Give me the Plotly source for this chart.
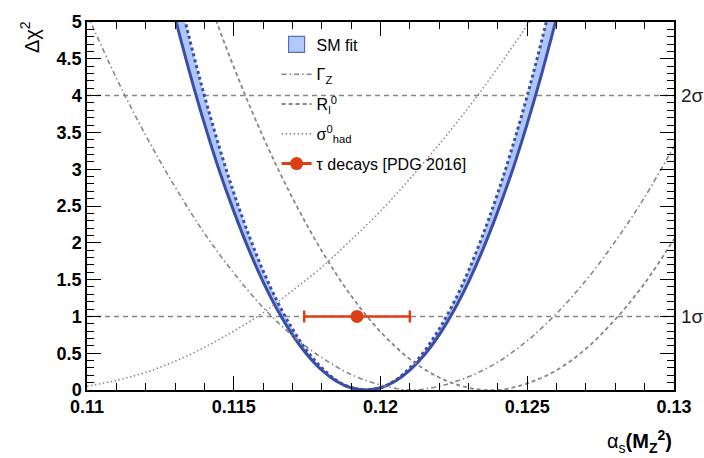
import plotly.graph_objects as go

# ---------------- data ----------------
alpha_sm = [0.1125, 0.113, 0.1135, 0.114, 0.1145, 0.115, 0.1155, 0.116, 0.1165, 0.117,
            0.1175, 0.118, 0.1185, 0.119, 0.1195, 0.12, 0.1205, 0.121, 0.1215, 0.122,
            0.1225, 0.123, 0.1235, 0.124, 0.1245, 0.125, 0.1255, 0.126, 0.1265]
chi2_sm_outer = [5.87, 5.06, 4.31, 3.62, 2.99, 2.43, 1.92, 1.47, 1.08, 0.75,
                 0.48, 0.27, 0.12, 0.03, 0.0, 0.03, 0.12, 0.27, 0.48, 0.75,
                 1.08, 1.47, 1.92, 2.43, 2.99, 3.62, 4.31, 5.06, 5.87]
chi2_sm_inner = [6.48, 5.59, 4.76, 4.00, 3.31, 2.68, 2.12, 1.62, 1.19, 0.83,
                 0.53, 0.30, 0.13, 0.03, 0.0, 0.03, 0.13, 0.30, 0.53, 0.83,
                 1.19, 1.62, 2.12, 2.68, 3.31, 4.00, 4.76, 5.59, 6.48]

alpha_gz = [0.110, 0.111, 0.112, 0.113, 0.114, 0.115, 0.116, 0.117, 0.118, 0.119, 0.120,
            0.121, 0.122, 0.123, 0.124, 0.125, 0.126, 0.127, 0.128, 0.129, 0.130]
chi2_gz = [5.11, 4.24, 3.46, 2.76, 2.13, 1.59, 1.12, 0.74, 0.44, 0.21, 0.07,
           0.00, 0.05, 0.18, 0.38, 0.67, 1.04, 1.49, 2.02, 2.62, 3.31]

alpha_rl = [0.113, 0.114, 0.115, 0.116, 0.117, 0.118, 0.119, 0.120, 0.121, 0.122,
            0.123, 0.124, 0.125, 0.126, 0.127, 0.128, 0.129, 0.130]
chi2_rl = [6.65, 5.46, 4.39, 3.44, 2.61, 1.89, 1.28, 0.79, 0.42, 0.17,
           0.03, 0.00, 0.09, 0.27, 0.56, 0.96, 1.45, 2.05]

alpha_sh = [0.110, 0.111, 0.112, 0.113, 0.114, 0.115, 0.116, 0.117, 0.118,
            0.119, 0.120, 0.121, 0.122, 0.123, 0.124, 0.125, 0.126]
chi2_sh = [0.05, 0.13, 0.24, 0.39, 0.58, 0.80, 1.05, 1.35, 1.67,
           2.04, 2.43, 2.87, 3.34, 3.84, 4.38, 4.96, 5.57]

tau_alpha = [0.1192]
tau_chi2 = [1.0]
tau_err = [0.0018]

sigma_levels = [1, 4]
sigma_labels = ["1σ", "2σ"]

x_range = [0.11, 0.13]
y_range = [0, 5]

# ---------------- styles ----------------
BLUE = "rgb(58,78,168)"
FILL = "rgba(165,192,245,0.9)"
GRAY = "rgb(135,135,135)"
RED = "rgb(222,62,20)"
FONT = "Liberation Sans"

fig = go.Figure()

fig.add_trace(go.Scatter(x=alpha_sm, y=chi2_sm_inner, mode="lines", line_shape="spline",
                         line=dict(color=BLUE, width=3, dash="3px,3px"),
                         showlegend=False, hoverinfo="skip"))
fig.add_trace(go.Scatter(x=alpha_sm, y=chi2_sm_outer, mode="lines", line_shape="spline",
                         line=dict(color=BLUE, width=3), fill="tonexty", fillcolor=FILL,
                         showlegend=False))
# legend entry for the SM band (box symbol)
fig.add_trace(go.Scatter(x=[None], y=[None], mode="markers",
                         marker=dict(symbol="square", size=22, color="rgb(178,202,250)",
                                     line=dict(color="rgb(90,110,200)", width=1.2)),
                         name="SM fit", legendrank=1, legendgroup="a"))
fig.add_trace(go.Scatter(x=alpha_gz, y=chi2_gz, mode="lines", line_shape="spline",
                         line=dict(color=GRAY, width=1.6, dash="5px,3px,1.5px,3px"),
                         name="Γ<sub>Z</sub>", legendrank=2, legendgroup="b"))
fig.add_trace(go.Scatter(x=alpha_rl, y=chi2_rl, mode="lines", line_shape="spline",
                         line=dict(color=GRAY, width=1.8, dash="4px,3px"),
                         name="R<sub>l</sub><sup>0</sup>", legendrank=3, legendgroup="c"))
fig.add_trace(go.Scatter(x=alpha_sh, y=chi2_sh, mode="lines", line_shape="spline",
                         line=dict(color=GRAY, width=1.5, dash="1.5px,2.5px"),
                         name="σ<sup>0</sup><sub>had</sub>", legendrank=4, legendgroup="d"))
fig.add_trace(go.Scatter(x=tau_alpha, y=tau_chi2, mode="lines+markers",
                         line=dict(color=RED, width=3),
                         marker=dict(color=RED, size=13),
                         error_x=dict(type="data", array=tau_err, color=RED, thickness=2.5, width=6),
                         name="τ decays [PDG 2016]", legendrank=5, legendgroup="e"))

for lvl, lab in zip(sigma_levels, sigma_labels):
    fig.add_shape(type="line", xref="x domain", x0=0, x1=1, yref="y", y0=lvl, y1=lvl,
                  line=dict(color=GRAY, width=1.5, dash="5px,4px"), layer="below")
    fig.add_annotation(xref="paper", x=1, y=lvl, yref="y", text=lab, showarrow=False,
                       xanchor="left", xshift=5, font=dict(family=FONT, size=19, color="#222"))

axis_common = dict(showgrid=False, zeroline=False, showline=True, linecolor="black", linewidth=1.5,
                   ticks="inside", mirror="ticks", tickcolor="black", tickwidth=1.2,
                   tickfont=dict(family=FONT, size=18, color="black", weight="bold"))

fig.update_xaxes(range=x_range, dtick=0.005, tick0=0.11, ticklen=14,
                 minor=dict(dtick=0.001, ticks="inside", ticklen=7, tickcolor="black", tickwidth=1.2),
                 **axis_common)
fig.update_yaxes(range=y_range, dtick=0.5, tick0=0, ticklen=14,
                 minor=dict(dtick=0.1, ticks="inside", ticklen=7, tickcolor="black", tickwidth=1.2),
                 **axis_common)

fig.add_annotation(xref="paper", yref="paper", x=-0.0978, y=0.958, text="Δχ<sup>2</sup>",
                   textangle=-90, showarrow=False, xanchor="center", yanchor="middle",
                   font=dict(family=FONT, size=20, color="black"))
fig.add_annotation(xref="paper", yref="paper", x=1.0, y=-0.095, text="α<sub>s</sub><b>(M<sub>Z</sub><sup>2</sup>)</b>",
                   showarrow=False, xanchor="right", yanchor="top",
                   font=dict(family=FONT, size=20, color="black"))

fig.update_layout(
    width=704, height=458,
    margin=dict(l=87, r=24, t=17, b=68),
    paper_bgcolor="white", plot_bgcolor="white",
    showlegend=True,
    legend=dict(x=0.323, y=0.985, xanchor="left", yanchor="top", bgcolor="rgba(0,0,0,0)",
                font=dict(family=FONT, size=16, color="black"), itemwidth=30,
                tracegroupgap=6, traceorder="grouped"),
)

fig.write_html("out.html")
